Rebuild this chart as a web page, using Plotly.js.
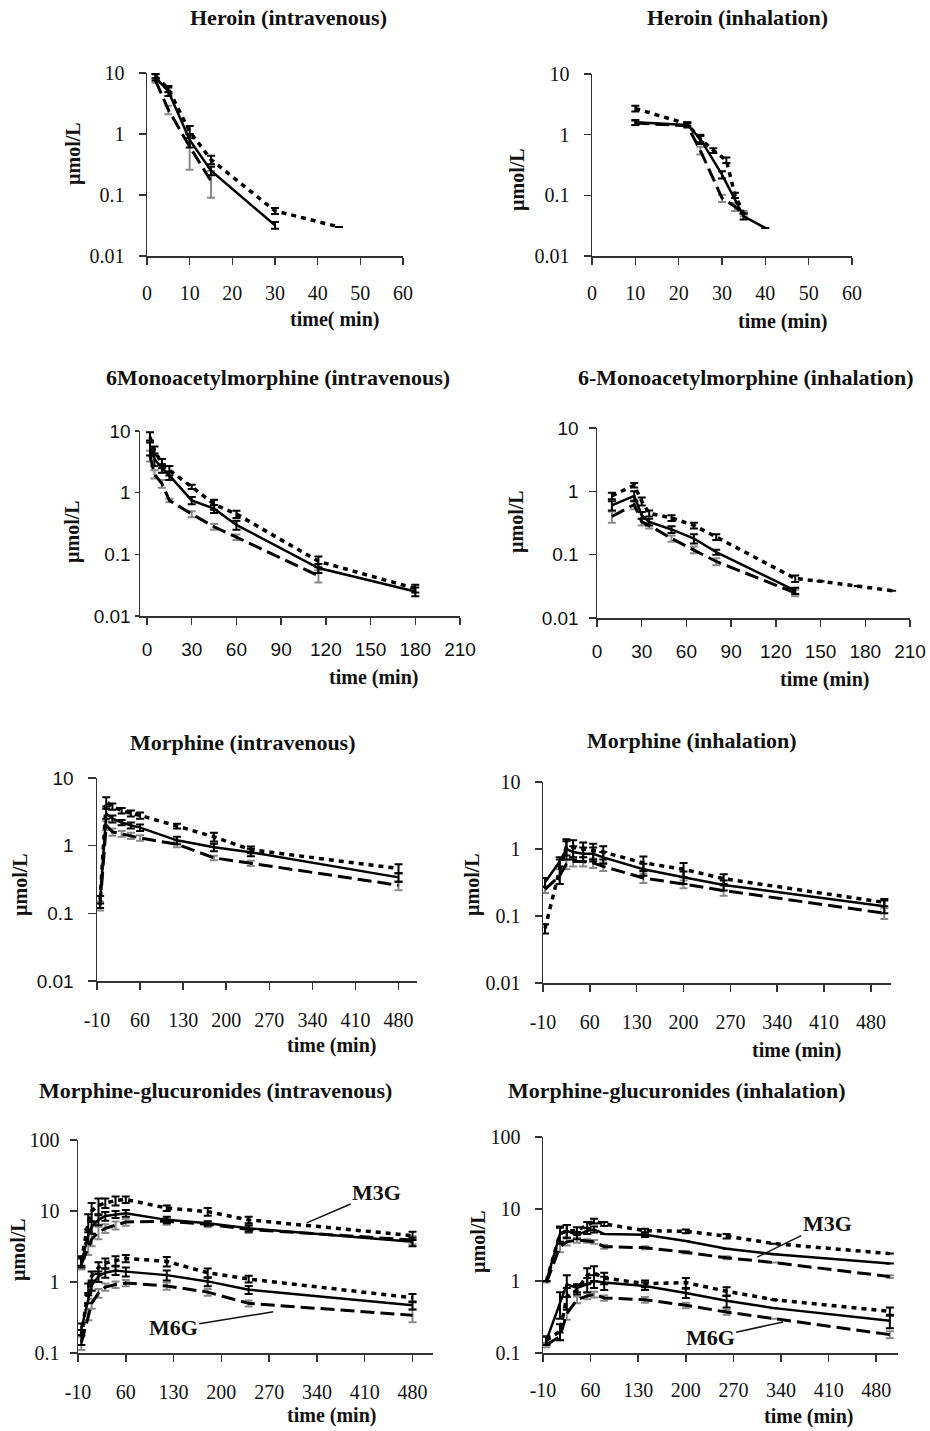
<!DOCTYPE html>
<html>
<head>
<meta charset="utf-8">
<script src="https://cdn.plot.ly/plotly-3.0.1.min.js"></script>
<style>html,body{margin:0;padding:0;background:#fff;}#chart{width:930px;height:1431px;}</style>
</head>
<body>
<div id="chart"></div>
<script>
// ---------------- DATA ----------------
// Panel titles
const panelTitles = ["Heroin (intravenous)", "Heroin (inhalation)",
  "6Monoacetylmorphine (intravenous)", "6-Monoacetylmorphine (inhalation)",
  "Morphine (intravenous)", "Morphine (inhalation)",
  "Morphine-glucuronides (intravenous)", "Morphine-glucuronides (inhalation)"];
const xTitles = ["time( min)", "time (min)", "time (min)", "time (min)", "time (min)", "time (min)", "time (min)", "time (min)"];
const yTitle = "µmol/L";

// tick labels
const yTicksLow = [0.01, 0.1, 1, 10];
const yTicksLowText = ["0.01", "0.1", "1", "10"];
const yTicksHigh = [0.1, 1, 10, 100];
const yTicksHighText = ["0.1", "1", "10", "100"];
const xTicksHeroin = [0, 10, 20, 30, 40, 50, 60];
const xTicksMAM = [0, 30, 60, 90, 120, 150, 180, 210];
const xTicksMorphine = [-10, 60, 130, 200, 270, 340, 410, 480];

// Panel 1: Heroin (intravenous)
const hIV_solid_t = [2, 5, 10, 15, 30];
const hIV_solid_y = [8.5, 5.0, 0.8, 0.25, 0.032];
const hIV_solid_e = [1.0, 0.8, 0.2, 0.04, 0.004];
const hIV_dot_t = [2, 5, 10, 15, 30, 45];
const hIV_dot_y = [9.0, 5.5, 1.1, 0.38, 0.055, 0.03];
const hIV_dot_e = [0.8, 0.6, 0.25, 0.06, 0.006, 0];
const hIV_dash_t = [2, 5, 10, 15];
const hIV_dash_y = [7.5, 2.5, 0.62, 0.17];
const hIV_dash_e = [0.6, 0.4, 0.36, 0.08];

// Panel 2: Heroin (inhalation)
const hIN_solid_t = [10, 22, 25, 30, 35, 40];
const hIN_solid_y = [1.6, 1.45, 0.85, 0.22, 0.045, 0.029];
const hIN_solid_e = [0.15, 0.12, 0.15, 0.03, 0.005, 0];
const hIN_dot_t = [10, 22, 25, 28, 31, 33, 35];
const hIN_dot_y = [2.7, 1.5, 0.85, 0.55, 0.38, 0.1, 0.05];
const hIN_dot_e = [0.3, 0.1, 0.1, 0.05, 0.04, 0.01, 0];
const hIN_dash_t = [10, 22, 25, 30, 33, 35];
const hIN_dash_y = [1.55, 1.4, 0.55, 0.09, 0.065, 0.05];
const hIN_dash_e = [0.12, 0.1, 0.08, 0.012, 0.01, 0.005];

// Panel 3: 6-MAM (intravenous)
const mIV_solid_t = [2, 5, 10, 15, 30, 45, 60, 115, 180];
const mIV_solid_y = [5.5, 3.5, 2.5, 1.9, 0.75, 0.55, 0.3, 0.06, 0.025];
const mIV_solid_e = [1.5, 0.8, 0.4, 0.3, 0.1, 0.08, 0.05, 0.01, 0.004];
const mIV_dot_t = [2, 5, 10, 15, 30, 45, 60, 115, 180];
const mIV_dot_y = [8.0, 4.8, 3.0, 2.3, 1.25, 0.65, 0.45, 0.077, 0.028];
const mIV_dot_e = [1.5, 0.8, 0.5, 0.4, 0.1, 0.12, 0.06, 0.015, 0.004];
const mIV_dash_t = [2, 5, 10, 15, 30, 45, 60, 115];
const mIV_dash_y = [4.0, 2.0, 1.4, 0.75, 0.45, 0.28, 0.19, 0.045];
const mIV_dash_e = [0.8, 0.3, 0.2, 0.05, 0.05, 0.03, 0.02, 0.01];

// Panel 4: 6-MAM (inhalation)
const mIN_solid_t = [10, 25, 30, 35, 50, 65, 80, 133];
const mIN_solid_y = [0.6, 0.85, 0.42, 0.33, 0.25, 0.18, 0.11, 0.027];
const mIN_solid_e = [0.1, 0.15, 0.05, 0.04, 0.03, 0.03, 0.01, 0.003];
const mIN_dot_t = [10, 25, 30, 35, 50, 65, 80, 133, 150, 175, 198];
const mIN_dot_y = [0.85, 1.25, 0.7, 0.45, 0.38, 0.29, 0.19, 0.042, 0.038, 0.032, 0.027];
const mIN_dot_e = [0.1, 0.1, 0.1, 0.05, 0.04, 0.03, 0.02, 0.005, 0, 0, 0];
const mIN_dash_t = [10, 25, 30, 35, 50, 65, 80, 133];
const mIN_dash_y = [0.4, 0.62, 0.33, 0.29, 0.18, 0.12, 0.078, 0.025];
const mIN_dash_e = [0.08, 0.1, 0.04, 0.03, 0.02, 0.015, 0.01, 0.003];

// Panel 5: Morphine (intravenous)
const moIV_t = [-5, 5, 15, 30, 45, 60, 120, 180, 240, 480];
const moIV_solid_y = [0.15, 3.0, 2.5, 2.2, 2.0, 1.85, 1.2, 0.95, 0.8, 0.34];
const moIV_solid_e = [0.03, 0.5, 0.3, 0.2, 0.2, 0.2, 0.15, 0.12, 0.1, 0.05];
const moIV_dot_y = [0.16, 4.5, 3.8, 3.3, 3.0, 2.8, 1.95, 1.35, 0.87, 0.46];
const moIV_dot_e = [0.02, 0.7, 0.4, 0.3, 0.3, 0.3, 0.15, 0.2, 0.1, 0.07];
const moIV_dash_y = [0.13, 2.0, 1.6, 1.5, 1.4, 1.3, 1.05, 0.66, 0.55, 0.26];
const moIV_dash_e = [0.02, 0.3, 0.2, 0.15, 0.15, 0.12, 0.1, 0.05, 0.05, 0.04];

// Panel 6: Morphine (inhalation)
const moIN_t = [-7, 15, 25, 35, 50, 65, 80, 140, 200, 260, 500];
const moIN_solid_y = [0.32, 0.65, 1.0, 0.9, 0.85, 0.85, 0.75, 0.5, 0.38, 0.29, 0.14];
const moIN_solid_e = [0.05, 0.1, 0.3, 0.2, 0.2, 0.2, 0.15, 0.1, 0.08, 0.05, 0.03];
const moIN_dot_y = [0.065, 0.5, 1.1, 1.05, 1.0, 0.95, 0.9, 0.62, 0.5, 0.36, 0.16];
const moIN_dot_e = [0.01, 0.2, 0.3, 0.3, 0.25, 0.25, 0.2, 0.15, 0.12, 0.06, 0.02];
const moIN_dash_y = [0.25, 0.4, 0.6, 0.65, 0.65, 0.62, 0.55, 0.37, 0.3, 0.24, 0.11];
const moIN_dash_e = [0.03, 0.1, 0.1, 0.1, 0.1, 0.1, 0.08, 0.06, 0.04, 0.04, 0.02];

// Panel 7: Morphine-glucuronides (intravenous)
const gIV_t = [-5, 5, 10, 20, 30, 45, 60, 120, 180, 240, 480];
const gIV_m3g_solid_y = [1.9, 4.5, 6.0, 7.5, 8.5, 9.0, 9.3, 7.5, 6.7, 5.7, 3.7];
const gIV_m3g_solid_e = [0.3, 1.0, 1.2, 1.2, 1.2, 1.0, 1.0, 0.8, 0.5, 0.6, 0.5];
const gIV_m3g_dot_y = [2.0, 7.0, 10.0, 12.0, 13.0, 14.0, 14.5, 11.0, 9.8, 7.5, 4.5];
const gIV_m3g_dot_e = [0.3, 2.0, 3.0, 3.0, 2.0, 2.0, 1.5, 1.0, 1.2, 0.8, 0.6];
const gIV_m3g_dash_y = [1.8, 3.0, 4.0, 5.0, 5.7, 6.3, 7.0, 7.2, 6.5, 5.5, 3.9];
const gIV_m3g_dash_e = [0.3, 0.6, 0.8, 1.0, 0.8, 0.8, 0.8, 0.8, 0.6, 0.6, 0.5];
const gIV_m6g_solid_y = [0.22, 0.6, 0.9, 1.2, 1.35, 1.45, 1.4, 1.25, 1.02, 0.78, 0.47];
const gIV_m6g_solid_e = [0.04, 0.1, 0.15, 0.2, 0.2, 0.2, 0.2, 0.2, 0.15, 0.1, 0.06];
const gIV_m6g_dot_y = [0.17, 0.8, 1.2, 1.6, 1.85, 2.0, 2.15, 1.95, 1.35, 1.1, 0.6];
const gIV_m6g_dot_e = [0.04, 0.15, 0.2, 0.3, 0.3, 0.3, 0.25, 0.3, 0.2, 0.12, 0.08];
const gIV_m6g_dash_y = [0.14, 0.35, 0.5, 0.7, 0.85, 0.92, 0.97, 0.88, 0.72, 0.5, 0.34];
const gIV_m6g_dash_e = [0.03, 0.06, 0.08, 0.1, 0.1, 0.1, 0.1, 0.1, 0.08, 0.05, 0.07];

// Panel 8: Morphine-glucuronides (inhalation)
const gIN_t = [-5, 15, 25, 40, 55, 65, 80, 140, 200, 260, 330, 500];
const gIN_m3g_solid_y = [1.0, 4.5, 5.0, 4.3, 5.0, 5.2, 4.5, 4.4, 3.6, 2.8, 2.35, 1.75];
const gIN_m3g_solid_e = [0, 1.0, 1.0, 0.5, 0.5, 0.5, 0, 0.3, 0, 0, 0, 0];
const gIN_m3g_dot_y = [1.0, 4.5, 5.0, 5.0, 6.0, 6.8, 6.2, 5.0, 4.9, 4.2, 3.3, 2.4];
const gIN_m3g_dot_e = [0, 1.2, 1.0, 0.6, 0.6, 0.5, 0.4, 0.3, 0.3, 0.3, 0, 0];
const gIN_m3g_dash_y = [0.95, 3.0, 3.5, 3.7, 3.6, 3.5, 3.0, 2.9, 2.5, 2.1, 1.8, 1.15];
const gIN_m3g_dash_e = [0, 0.5, 0.4, 0.3, 0.2, 0.2, 0.2, 0.15, 0.1, 0.1, 0, 0.05];
const gIN_m6g_solid_y = [0.15, 0.5, 0.9, 0.8, 0.9, 1.0, 0.95, 0.85, 0.68, 0.53, 0.42, 0.28];
const gIN_m6g_solid_e = [0.02, 0.2, 0.3, 0.1, 0.2, 0.2, 0.2, 0.1, 0.1, 0.1, 0, 0.06];
const gIN_m6g_dot_y = [0.15, 0.2, 0.6, 0.75, 1.2, 1.3, 1.1, 0.92, 0.95, 0.72, 0.55, 0.38];
const gIN_m6g_dot_e = [0.02, 0.05, 0.2, 0.1, 0.3, 0.3, 0.2, 0.1, 0.15, 0.1, 0, 0.05];
const gIN_m6g_dash_y = [0.13, 0.17, 0.35, 0.55, 0.62, 0.65, 0.58, 0.55, 0.46, 0.37, 0.3, 0.18];
const gIN_m6g_dash_e = [0.01, 0.02, 0.06, 0.06, 0.06, 0.06, 0.05, 0.05, 0.04, 0.03, 0, 0.02];

// Metabolite labels
const metLabels = ["M3G", "M6G"];
const labelAnchorsIV = [[325, 6.8], [276, 0.38]];
const labelAnchorsIN = [[305, 2.15], [343, 0.27]];

// ---------------- LAYOUT / STYLE ----------------
const W = 930, H = 1431;
const fx = px => px / W;
const fy = py => 1 - py / H;
const SERIF = "Liberation Serif, Times New Roman, serif";
const SANS = "Liberation Sans, Arial, sans-serif";

const styles = {
  solid: {line: {color: "#000", width: 2.5, dash: "solid"}, err: "#000"},
  dot: {line: {color: "#000", width: 3.5, dash: "5px,5px"}, err: "#000"},
  dash: {line: {color: "#000", width: 3, dash: "14px,6px"}, err: "#8a8a8a"}
};

const traces = [];
function add(n, t, y, e, st) {
  const s = styles[st];
  traces.push({
    type: "scatter", mode: "lines", x: t, y: y,
    xaxis: n === 1 ? "x" : "x" + n, yaxis: n === 1 ? "y" : "y" + n,
    line: s.line, hoverinfo: "skip",
    error_y: {type: "data", array: e, visible: true, color: s.err, thickness: 2, width: 4}
  });
}
add(1, hIV_dash_t, hIV_dash_y, hIV_dash_e, "dash");
add(1, hIV_dot_t, hIV_dot_y, hIV_dot_e, "dot");
add(1, hIV_solid_t, hIV_solid_y, hIV_solid_e, "solid");
add(2, hIN_dash_t, hIN_dash_y, hIN_dash_e, "dash");
add(2, hIN_dot_t, hIN_dot_y, hIN_dot_e, "dot");
add(2, hIN_solid_t, hIN_solid_y, hIN_solid_e, "solid");
add(3, mIV_dash_t, mIV_dash_y, mIV_dash_e, "dash");
add(3, mIV_dot_t, mIV_dot_y, mIV_dot_e, "dot");
add(3, mIV_solid_t, mIV_solid_y, mIV_solid_e, "solid");
add(4, mIN_dash_t, mIN_dash_y, mIN_dash_e, "dash");
add(4, mIN_dot_t, mIN_dot_y, mIN_dot_e, "dot");
add(4, mIN_solid_t, mIN_solid_y, mIN_solid_e, "solid");
add(5, moIV_t, moIV_dash_y, moIV_dash_e, "dash");
add(5, moIV_t, moIV_dot_y, moIV_dot_e, "dot");
add(5, moIV_t, moIV_solid_y, moIV_solid_e, "solid");
add(6, moIN_t, moIN_dash_y, moIN_dash_e, "dash");
add(6, moIN_t, moIN_dot_y, moIN_dot_e, "dot");
add(6, moIN_t, moIN_solid_y, moIN_solid_e, "solid");
add(7, gIV_t, gIV_m3g_dash_y, gIV_m3g_dash_e, "dash");
add(7, gIV_t, gIV_m3g_dot_y, gIV_m3g_dot_e, "dot");
add(7, gIV_t, gIV_m3g_solid_y, gIV_m3g_solid_e, "solid");
add(7, gIV_t, gIV_m6g_dash_y, gIV_m6g_dash_e, "dash");
add(7, gIV_t, gIV_m6g_dot_y, gIV_m6g_dot_e, "dot");
add(7, gIV_t, gIV_m6g_solid_y, gIV_m6g_solid_e, "solid");
add(8, gIN_t, gIN_m3g_dash_y, gIN_m3g_dash_e, "dash");
add(8, gIN_t, gIN_m3g_dot_y, gIN_m3g_dot_e, "dot");
add(8, gIN_t, gIN_m3g_solid_y, gIN_m3g_solid_e, "solid");
add(8, gIN_t, gIN_m6g_dash_y, gIN_m6g_dash_e, "dash");
add(8, gIN_t, gIN_m6g_dot_y, gIN_m6g_dot_e, "dot");
add(8, gIN_t, gIN_m6g_solid_y, gIN_m6g_solid_e, "solid");

// panel geometry in pixels: [left, right, top, bottom]
const panels = [
  {box: [147, 403, 73, 256], xr: [0, 60], xt: xTicksHeroin, yHigh: false, xf: SERIF, yf: SERIF, xso: 11, yso: 10, ylen: 7,
   title: [288, 18], xtitle: [334, 320], ytitle: [73, 154]},
  {box: [592, 852, 74, 256], xr: [0, 60], xt: xTicksHeroin, yHigh: false, xf: SERIF, yf: SERIF, xso: 11, yso: 10, ylen: 7,
   title: [737, 18], xtitle: [782, 322], ytitle: [518, 180]},
  {box: [140, 460, 431, 616], xr: [-4.7, 210], xt: xTicksMAM, yHigh: false, xf: SANS, yf: SANS, xso: 9, yso: 0, ylen: 4,
   title: [278, 377], xtitle: [373, 677], ytitle: [72, 532]},
  {box: [597, 910, 428, 618], xr: [0, 210], xt: xTicksMAM, yHigh: false, xf: SANS, yf: SANS, xso: 9, yso: 6, ylen: 7,
   title: [746, 377], xtitle: [824, 679], ytitle: [517, 522]},
  {box: [97, 417, 778, 981], xr: [-10, 510], xt: xTicksMorphine, yHigh: false, xf: SERIF, yf: SANS, xso: 13, yso: 10, ylen: 8,
   title: [243, 742], xtitle: [331, 1045], ytitle: [20, 885]},
  {box: [543, 891, 782, 983], xr: [-10, 510], xt: xTicksMorphine, yHigh: false, xf: SERIF, yf: SERIF, xso: 13, yso: 10, ylen: 7,
   title: [692, 740], xtitle: [796, 1050], ytitle: [472, 885]},
  {box: [78, 433, 1140, 1353], xr: [-10, 510], xt: xTicksMorphine, yHigh: true, xf: SERIF, yf: SERIF, xso: 13, yso: 6, ylen: 7,
   title: [215, 1090], xtitle: [331, 1415], ytitle: [18, 1250]},
  {box: [543, 898, 1137, 1353], xr: [-10, 512], xt: xTicksMorphine, yHigh: true, xf: SERIF, yf: SERIF, xso: 11, yso: 10, ylen: 7,
   title: [677, 1090], xtitle: [808, 1416], ytitle: [478, 1242]}
];

const layout = {
  width: W, height: H, margin: {l: 0, r: 0, t: 0, b: 0},
  paper_bgcolor: "#fff", plot_bgcolor: "rgba(0,0,0,0)", showlegend: false,
  annotations: []
};
const axisCommon = {
  showgrid: false, zeroline: false, showline: true, linecolor: "#333", linewidth: 1.5,
  ticks: "outside", ticklen: 7, tickwidth: 1.5, tickcolor: "#333", fixedrange: true
};
panels.forEach((p, i) => {
  const n = i + 1;
  const xk = n === 1 ? "xaxis" : "xaxis" + n;
  const yk = n === 1 ? "yaxis" : "yaxis" + n;
  const yid = n === 1 ? "y" : "y" + n;
  const xid = n === 1 ? "x" : "x" + n;
  const [l, r, t, b] = p.box;
  layout[xk] = Object.assign({}, axisCommon, {
    domain: [fx(l), fx(r)], range: p.xr, anchor: yid,
    tickmode: "array", tickvals: p.xt, ticktext: p.xt.map(String),
    tickfont: {family: p.xf, size: p.xf === SANS ? 19 : 20, color: "#111"},
    ticklabelstandoff: p.xso
  });
  layout[yk] = Object.assign({}, axisCommon, {
    domain: [fy(b), fy(t)], type: "log", range: p.yHigh ? [-1, 2] : [-2, 1], anchor: xid,
    tickmode: "array", tickvals: p.yHigh ? yTicksHigh : yTicksLow,
    ticktext: p.yHigh ? yTicksHighText : yTicksLowText,
    tickfont: {family: p.yf, size: p.yf === SANS ? 19 : 20, color: "#111"},
    ticklen: p.ylen, ticklabelstandoff: p.yso
  });
  layout.annotations.push({
    xref: "paper", yref: "paper", x: fx(p.title[0]), y: fy(p.title[1]),
    xanchor: "center", yanchor: "middle", showarrow: false,
    text: "<b>" + panelTitles[i] + "</b>", font: {family: SERIF, size: 22, color: "#111"}
  });
  layout.annotations.push({
    xref: "paper", yref: "paper", x: fx(p.xtitle[0]), y: fy(p.xtitle[1]),
    xanchor: "center", yanchor: "middle", showarrow: false,
    text: "<b>" + xTitles[i] + "</b>", font: {family: SERIF, size: 20, color: "#111"}
  });
  layout.annotations.push({
    xref: "paper", yref: "paper", x: fx(p.ytitle[0]), y: fy(p.ytitle[1]),
    xanchor: "center", yanchor: "middle", showarrow: false, textangle: -90,
    text: "<b>" + yTitle + "</b>", font: {family: SERIF, size: 20, color: "#111"}
  });
});

// metabolite labels with leader lines
const labelOffsets = [[[70, -30], [-100, 16]], [[70, -34], [-73, 16]]];
[[labelAnchorsIV, "x7", "y7"], [labelAnchorsIN, "x8", "y8"]].forEach(([anchors, xa, ya], k) => {
  anchors.forEach((a, j) => {
    layout.annotations.push({
      xref: xa, yref: ya, x: a[0], y: Math.log10(a[1]),
      ax: labelOffsets[k][j][0], ay: labelOffsets[k][j][1],
      showarrow: true, arrowhead: 0, arrowwidth: 1.5, arrowcolor: "#111",
      text: "<b>" + metLabels[j] + "</b>", font: {family: SERIF, size: 22, color: "#111"}
    });
  });
});

Plotly.newPlot("chart", traces, layout, {staticPlot: true, displayModeBar: false});
</script>
</body>
</html>
